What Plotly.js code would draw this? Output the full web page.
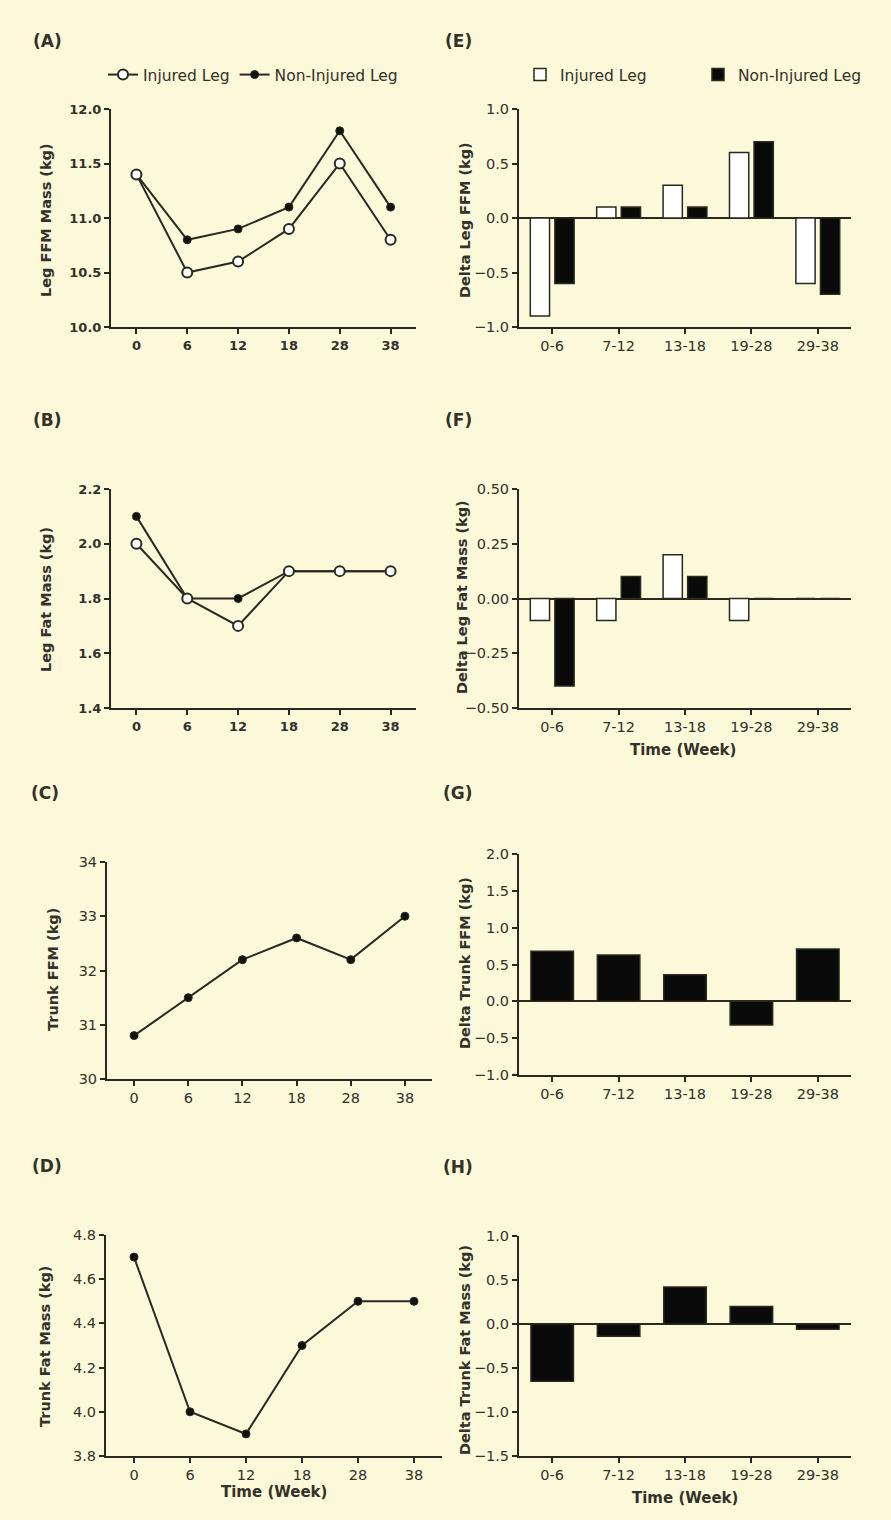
<!DOCTYPE html>
<html>
<head>
<meta charset="utf-8">
<script src="https://cdn.plot.ly/plotly-3.0.1.min.js"></script>
<style>html,body{margin:0;padding:0;background:#FCF9DA;overflow:hidden;}#chart{width:891px;height:1520px;}</style>
</head>
<body>
<div id="chart"></div>
<script>
// ---- Data ----
const weeks = ['0', '6', '12', '18', '28', '38'];
const periods = ['0-6', '7-12', '13-18', '19-28', '29-38'];
const seriesNames = ['Injured Leg', 'Non-Injured Leg'];

const legFFMInjured = [11.4, 10.5, 10.6, 10.9, 11.5, 10.8];
const legFFMNonInjured = [11.4, 10.8, 10.9, 11.1, 11.8, 11.1];
const legFatInjured = [2.0, 1.8, 1.7, 1.9, 1.9, 1.9];
const legFatNonInjured = [2.1, 1.8, 1.8, 1.9, 1.9, 1.9];
const trunkFFM = [30.8, 31.5, 32.2, 32.6, 32.2, 33.0];
const trunkFat = [4.7, 4.0, 3.9, 4.3, 4.5, 4.5];

const deltaLegFFMInjured = [-0.9, 0.1, 0.3, 0.6, -0.6];
const deltaLegFFMNonInjured = [-0.6, 0.1, 0.1, 0.7, -0.7];
const deltaLegFatInjured = [-0.1, -0.1, 0.2, -0.1, 0];
const deltaLegFatNonInjured = [-0.4, 0.1, 0.1, 0, 0];
const deltaTrunkFFM = [0.68, 0.63, 0.36, -0.32, 0.71];
const deltaTrunkFat = [-0.65, -0.14, 0.42, 0.2, -0.06];

// ---- Styling ----
const W = 891, H = 1520;
const fx = p => p / W;
const fy = p => 1 - p / H;
const BG = '#FCF9DA';
const INK = '#2a291f';
const TXT = '#333128';
const FONT = 'DejaVu Sans, Liberation Sans, Arial, sans-serif';

function xCat(domL, domR, anchor, cats, bold) {
  return {
    domain: [fx(domL), fx(domR)], anchor: anchor, type: 'category',
    categoryorder: 'array', categoryarray: cats,
    range: [-0.5, cats.length - 0.5], fixedrange: true,
    showline: true, linecolor: INK, linewidth: 2,
    ticks: 'outside', ticklen: 5, tickwidth: 2, tickcolor: INK,
    showgrid: false, zeroline: false,
    tickfont: {family: FONT, size: bold ? 13 : 14.5, color: TXT, weight: bold ? 'bold' : 'normal'}
  };
}
function yLin(domTop, domBot, anchor, range, dtick, fmt, bold, zero) {
  return {
    domain: [fy(domBot), fy(domTop)], anchor: anchor,
    range: range, tick0: range[0], dtick: dtick, tickformat: fmt, fixedrange: true,
    showline: true, linecolor: INK, linewidth: 2,
    ticks: 'outside', ticklen: 5, tickwidth: 2, tickcolor: INK,
    showgrid: false, zeroline: !!zero, zerolinecolor: INK, zerolinewidth: 2,
    tickfont: {family: FONT, size: bold ? 13 : 14.5, color: TXT, weight: bold ? 'bold' : 'normal'}
  };
}

const openMarker = {symbol: 'circle', size: 10, color: '#ffffff', line: {color: INK, width: 2}};
const fillMarker = {symbol: 'circle', size: 8, color: '#111111', line: {color: INK, width: 1}};
const lineStyle = {color: INK, width: 2};

const traces = [
  // (A)
  {x: weeks, y: legFFMNonInjured, xaxis: 'x', yaxis: 'y', type: 'scatter', mode: 'lines+markers',
   name: seriesNames[1], legend: 'legend', legendrank: 2, line: lineStyle, marker: fillMarker, cliponaxis: false},
  {x: weeks, y: legFFMInjured, xaxis: 'x', yaxis: 'y', type: 'scatter', mode: 'lines+markers',
   name: seriesNames[0], legend: 'legend', legendrank: 1, line: lineStyle, marker: openMarker, cliponaxis: false},
  // (B)
  {x: weeks, y: legFatNonInjured, xaxis: 'x2', yaxis: 'y2', type: 'scatter', mode: 'lines+markers',
   name: seriesNames[1], showlegend: false, line: lineStyle, marker: fillMarker, cliponaxis: false},
  {x: weeks, y: legFatInjured, xaxis: 'x2', yaxis: 'y2', type: 'scatter', mode: 'lines+markers',
   name: seriesNames[0], showlegend: false, line: lineStyle, marker: openMarker, cliponaxis: false},
  // (C)
  {x: weeks, y: trunkFFM, xaxis: 'x3', yaxis: 'y3', type: 'scatter', mode: 'lines+markers',
   name: 'Trunk FFM', showlegend: false, line: lineStyle, marker: fillMarker, cliponaxis: false},
  // (D)
  {x: weeks, y: trunkFat, xaxis: 'x4', yaxis: 'y4', type: 'scatter', mode: 'lines+markers',
   name: 'Trunk Fat Mass', showlegend: false, line: lineStyle, marker: fillMarker, cliponaxis: false},
  // (E)
  {x: periods, y: deltaLegFFMInjured, xaxis: 'x5', yaxis: 'y5', type: 'bar', name: seriesNames[0],
   legend: 'legend2', width: 0.29, offset: -0.33, marker: {color: '#ffffff', line: {color: INK, width: 1.5}}},
  {x: periods, y: deltaLegFFMNonInjured, xaxis: 'x5', yaxis: 'y5', type: 'bar', name: seriesNames[1],
   legend: 'legend2', width: 0.29, offset: 0.04, marker: {color: '#0a0a0a', line: {color: INK, width: 1.5}}},
  // (F)
  {x: periods, y: deltaLegFatInjured, xaxis: 'x6', yaxis: 'y6', type: 'bar', name: seriesNames[0],
   showlegend: false, width: 0.29, offset: -0.33, marker: {color: '#ffffff', line: {color: INK, width: 1.5}}},
  {x: periods, y: deltaLegFatNonInjured, xaxis: 'x6', yaxis: 'y6', type: 'bar', name: seriesNames[1],
   showlegend: false, width: 0.29, offset: 0.04, marker: {color: '#0a0a0a', line: {color: INK, width: 1.5}}},
  // (G)
  {x: periods, y: deltaTrunkFFM, xaxis: 'x7', yaxis: 'y7', type: 'bar', name: 'Delta Trunk FFM',
   showlegend: false, width: 0.64, offset: -0.32, marker: {color: '#0a0a0a', line: {color: INK, width: 1.5}}},
  // (H)
  {x: periods, y: deltaTrunkFat, xaxis: 'x8', yaxis: 'y8', type: 'bar', name: 'Delta Trunk Fat Mass',
   showlegend: false, width: 0.64, offset: -0.32, marker: {color: '#0a0a0a', line: {color: INK, width: 1.5}}}
];

function ann(text, x, y, opts) {
  return Object.assign({
    text: text, xref: 'paper', yref: 'paper', x: fx(x), y: fy(y),
    xanchor: 'center', yanchor: 'middle', showarrow: false,
    font: {family: FONT, size: 14.5, color: TXT, weight: 'bold'}
  }, opts || {});
}
const panelFont = {family: FONT, size: 17, color: TXT, weight: 'bold'};
const timeFont = {family: FONT, size: 15, color: TXT, weight: 'bold'};
const annotations = [
  ann('(A)', 47, 41, {font: panelFont}),
  ann('(B)', 47, 420, {font: panelFont}),
  ann('(C)', 45, 793, {font: panelFont}),
  ann('(D)', 47, 1166, {font: panelFont}),
  ann('(E)', 458, 41, {font: panelFont}),
  ann('(F)', 458, 420, {font: panelFont}),
  ann('(G)', 458, 793, {font: panelFont}),
  ann('(H)', 458, 1167, {font: panelFont}),
  ann('Leg FFM Mass (kg)', 46, 220, {textangle: -90}),
  ann('Leg Fat Mass (kg)', 46, 600, {textangle: -90}),
  ann('Trunk FFM (kg)', 53, 970, {textangle: -90}),
  ann('Trunk Fat Mass (kg)', 45, 1347, {textangle: -90}),
  ann('Delta Leg FFM (kg)', 465, 220, {textangle: -90}),
  ann('Delta Leg Fat Mass (kg)', 462, 597, {textangle: -90}),
  ann('Delta Trunk FFM (kg)', 465, 963, {textangle: -90}),
  ann('Delta Trunk Fat Mass (kg)', 465, 1350, {textangle: -90}),
  ann('Time (Week)', 683, 750, {font: timeFont}),
  ann('Time (Week)', 274, 1492, {font: timeFont}),
  ann('Time (Week)', 685, 1498, {font: timeFont})
];

const layout = {
  width: W, height: H, margin: {l: 0, r: 0, t: 0, b: 0, autoexpand: false},
  paper_bgcolor: BG, plot_bgcolor: 'rgba(0,0,0,0)',
  font: {family: FONT, color: TXT},
  showlegend: true,
  legend: {x: fx(103), y: fy(75), xanchor: 'left', yanchor: 'middle', orientation: 'h',
           bgcolor: 'rgba(0,0,0,0)', font: {family: FONT, size: 15.5, color: TXT}, traceorder: 'normal'},
  legend2: {x: fx(520), y: fy(75), xanchor: 'left', yanchor: 'middle', orientation: 'h',
            bgcolor: 'rgba(0,0,0,0)', font: {family: FONT, size: 15.5, color: TXT}, traceorder: 'normal',
            entrywidth: 133, entrywidthmode: 'pixels'},
  annotations: annotations,
  xaxis:  xCat(111, 416, 'y', weeks, true),
  yaxis:  yLin(109, 327, 'x', [10, 12], 0.5, '.1f', true),
  xaxis2: xCat(111, 416, 'y2', weeks, true),
  yaxis2: yLin(489, 708, 'x2', [1.4, 2.2], 0.2, '.1f', true),
  xaxis3: xCat(107, 432, 'y3', weeks, false),
  yaxis3: yLin(862, 1079, 'x3', [30, 34], 1, 'd', false),
  xaxis4: xCat(106, 442, 'y4', weeks, false),
  yaxis4: yLin(1235, 1456, 'x4', [3.8, 4.8], 0.2, '.1f', false),
  xaxis5: xCat(519, 851, 'y5', periods, false),
  yaxis5: yLin(109, 327, 'x5', [-1, 1], 0.5, '.1f', false, true),
  xaxis6: xCat(519, 851, 'y6', periods, false),
  yaxis6: yLin(489, 708, 'x6', [-0.5, 0.5], 0.25, '.2f', false, true),
  xaxis7: xCat(519, 851, 'y7', periods, false),
  yaxis7: yLin(854, 1075, 'x7', [-1, 2], 0.5, '.1f', false, true),
  xaxis8: xCat(519, 851, 'y8', periods, false),
  yaxis8: yLin(1236, 1456, 'x8', [-1.5, 1], 0.5, '.1f', false, true)
};

Plotly.newPlot('chart', traces, layout, {displayModeBar: false, staticPlot: true});
</script>
</body>
</html>
